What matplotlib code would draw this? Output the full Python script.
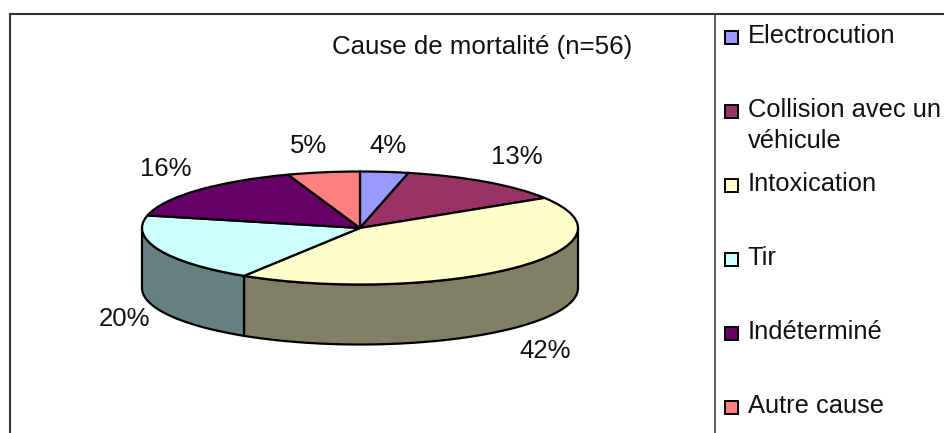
import matplotlib
matplotlib.use("Agg")
import matplotlib.pyplot as plt
import numpy as np
from matplotlib.patches import Rectangle

plt.rcParams["font.family"] = ["Liberation Sans", "DejaVu Sans"]

# values, clockwise from the top of the pie
categories = ["Electrocution", "Collision avec un\nvéhicule", "Intoxication",
              "Tir", "Indéterminé", "Autre cause"]
counts = [2, 7, 24, 11, 9, 3]
pct_labels = ["4%", "13%", "42%", "20%", "16%", "5%"]
colors = ["#9999FF", "#993366", "#FFFFCC", "#CCFFFF", "#660066", "#FF8080"]
side_colors = ["#4D4D80", "#4D1A33", "#808066", "#668080", "#330033", "#804040"]
title = "Cause de mortalité (n=56)"

W, H = 944, 433
fig = plt.figure(figsize=(W / 100, H / 100), dpi=100, facecolor="white")

# full figure axes working in picture pixels, for frame and text
ax = fig.add_axes([0, 0, 1, 1])
ax.set_xlim(0, W)
ax.set_ylim(H, 0)
ax.axis("off")

frame = "#333333"
ax.plot([9.5, 9.5, W], [H, 14, 14], color=frame, lw=1.5, solid_joinstyle="miter")
ax.plot([714.5, 714.5], [14, H], color=frame, lw=1.1)

ax.text(482, 47, title, fontsize=18.6, ha="center", va="center", color="#111111")

# pie labels
label_pos = [(388, 146), (517, 157), (545, 351), (125, 319), (166, 169), (309, 146)]
for txt, (x, y) in zip(pct_labels, label_pos):
    ax.text(x, y, txt, fontsize=18.5, ha="center", va="center", color="#111111")

# legend
for i, (name, col) in enumerate(zip(categories, colors)):
    y = 37 + 74 * i
    ax.add_patch(Rectangle((724.5, y - 6.5), 13.5, 13.5, facecolor=col,
                           edgecolor="black", lw=1.4))
    first, *rest = name.split("\n")
    ax.text(747.5, y + 6, first, fontsize=18.4, va="baseline", color="#111111")
    for line in rest:
        ax.text(747.5, y + 37, line, fontsize=18.4, va="baseline", color="#111111")

# pie: own axes stretched over the ellipse of the top face
cx, cy, rx, ry = 360, 228, 218, 56.5
depth = 60 / ry
pie_ax = fig.add_axes([(cx - rx) / W, 1 - (cy + ry) / H, 2 * rx / W, 2 * ry / H])

# side wall, only the front half of the rim is seen
shares = np.array(counts) / sum(counts) * 360
ends = np.cumsum(shares)
starts = ends - shares
for a, b, col in zip(starts, ends, side_colors):
    a, b = max(a, 90), min(b, 270)
    if a >= b:
        continue
    t = np.radians(np.linspace(a, b, 100))
    xs = np.sin(t)
    ys = np.cos(t)
    pie_ax.fill(np.r_[xs, xs[::-1]], np.r_[ys, ys[::-1] - depth],
                facecolor=col, edgecolor="black", lw=1.6, clip_on=False, zorder=0.5)

pie_ax.pie(counts, colors=colors, startangle=90, counterclock=False, radius=1,
           wedgeprops={"edgecolor": "black", "linewidth": 1.6, "clip_on": False})
pie_ax.set_aspect("auto")
pie_ax.set_xlim(-1, 1)
pie_ax.set_ylim(-1, 1)
pie_ax.axis("off")

fig.savefig("out.png", dpi=100)
